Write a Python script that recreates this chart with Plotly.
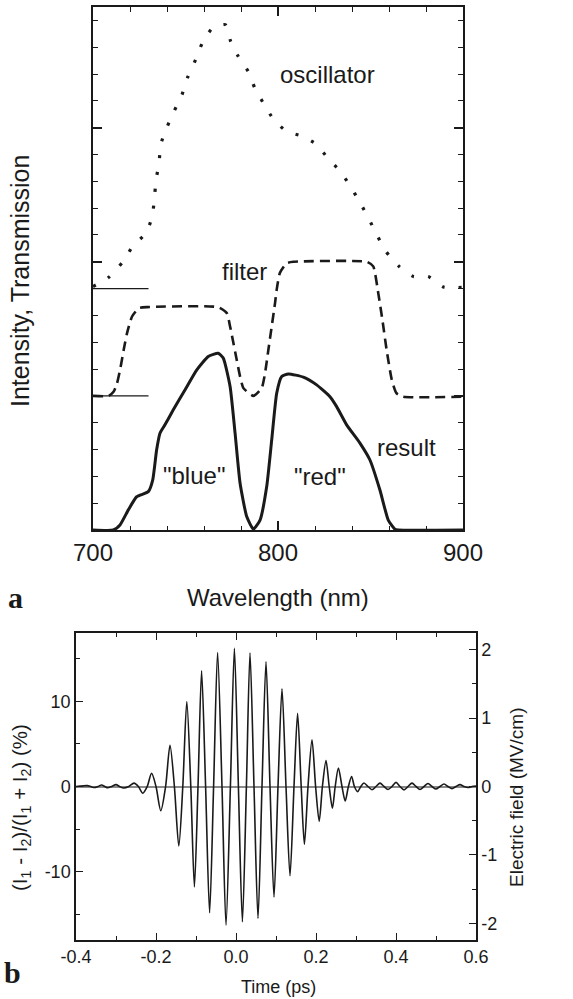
import plotly.graph_objects as go

# ---------------- data: panel a ----------------
osc_wl = [700, 708.3, 716, 721.4, 728.6, 732, 733.2, 734.1, 735.7, 736.6, 739.8, 743.8, 748.1, 751,
          755.5, 759.1, 764.7, 771.5, 774.4, 778.5, 783.9, 787.7, 792.6, 797.5, 804.7, 813.2, 820.9,
          827.2, 833.2, 838.6, 844, 848.9, 853.4, 858.4, 865.4, 873.2, 881.2, 889.4, 900]
osc_val = [9.08, 9.41, 9.99, 10.57, 11.07, 11.69, 12.38, 13.06, 13.68, 14.37, 14.99, 15.61, 16.23, 16.85,
           17.54, 18.16, 18.72, 18.84, 18.22, 17.66, 17.10, 16.44, 15.86, 15.32, 14.86, 14.68, 14.37,
           13.84, 13.41, 12.87, 12.25, 11.63, 11.01, 10.38, 9.83, 9.45, 9.45, 9.06, 9.05]

filt_wl = [700, 708.5, 711.2, 713, 714.8, 716.6, 718.4, 721.1, 724.7, 729.2, 767.7, 772.3, 774.1, 775.9,
           777.7, 779.5, 781.3, 786.7, 791.2, 793, 794.8, 796.6, 798.4, 799.3, 801, 804.7, 808.3,
           848, 851.5, 854.2, 856.5, 858.7, 861.5, 864, 867.6, 900]
filt_val = [5.0, 5.0, 5.16, 5.47, 6.03, 6.72, 7.34, 7.96, 8.27, 8.31, 8.31, 8.09, 7.59, 6.97,
            6.34, 5.72, 5.29, 5.0, 5.29, 5.85, 6.72, 7.59, 8.46, 8.96, 9.58, 9.95, 10.0,
            10.0, 9.83, 8.83, 7.8, 6.72, 5.6, 5.1, 4.97, 4.97]

res_wl = [700, 711, 714.6, 719.1, 723.6, 729.9, 732.3, 734.4, 736.2, 738.9, 743.4, 749.7, 756.1, 762.3,
          767.7, 770.4, 774.1, 776.8, 779.5, 783.1, 786.7, 790.3, 793.9, 796.6, 799.3, 802, 805.6,
          813.7, 820.9, 828.1, 831.7, 837.1, 844.3, 849.7, 855.1, 859.6, 863.2, 865, 900]
res_val = [0, 0, 0.19, 0.75, 1.24, 1.43, 1.87, 2.99, 3.61, 3.92, 4.48, 5.22, 5.97, 6.47,
           6.59, 6.41, 5.35, 3.61, 1.74, 0.50, 0.03, 0.37, 1.62, 3.36, 5.10, 5.72, 5.82,
           5.70, 5.41, 4.97, 4.60, 3.92, 3.24, 2.61, 1.49, 0.37, 0.03, 0, 0]

base_wl = [700, 730]
base_levels = [5, 9]

a_xtick_vals = [700, 800, 900]
a_xtick_text = ["700", "800", "900"]
a_xtick_minor = [720, 740, 760, 780, 820, 840, 860, 880]
a_ytick_major = [0, 5, 10, 15]
a_ytick_minor = [1, 2, 3, 4, 6, 7, 8, 9, 11, 12, 13, 14, 16, 17, 18, 19]

a_labels = ["oscillator", "filter", '"blue"', '"red"', "result"]
a_label_x = [826.5, 782, 754.8, 822.7, 869.2]
a_label_y = [16.98, 9.64, 2.03, 1.99, 3.07]

# ---------------- data: panel b ----------------
t_ps = [-0.400, -0.390, -0.372, -0.363, -0.354, -0.345, -0.336, -0.328, -0.321, -0.311, -0.300, -0.291,
        -0.281, -0.268, -0.255, -0.244, -0.233, -0.222, -0.211, -0.200, -0.188, -0.176, -0.165, -0.154,
        -0.143, -0.133, -0.123, -0.113, -0.104, -0.095, -0.086, -0.076, -0.066, -0.056, -0.046, -0.035,
        -0.025, -0.014, -0.004, 0.006, 0.016, 0.026, 0.035, 0.045, 0.055, 0.065, 0.075, 0.085,
        0.095, 0.105, 0.115, 0.125, 0.135, 0.145, 0.154, 0.163, 0.171, 0.180, 0.190, 0.199,
        0.208, 0.216, 0.225, 0.233, 0.241, 0.248, 0.256, 0.265, 0.273, 0.281, 0.289, 0.296,
        0.304, 0.312, 0.320, 0.330, 0.340, 0.350, 0.360, 0.370, 0.380, 0.390, 0.400, 0.410,
        0.420, 0.430, 0.440, 0.450, 0.460, 0.470, 0.480, 0.490, 0.500, 0.510, 0.520, 0.530,
        0.540, 0.550, 0.560, 0.570, 0.580, 0.590, 0.600]
signal_pct = [0.00, 0.05, 0.10, 0.00, -0.12, 0.00, 0.18, 0.00, -0.15, 0.00, 0.22, 0.00,
              -0.18, 0.00, 0.40, 0.00, -0.79, 0.00, 1.55, 0.00, -2.85, 0.00, 4.85, 0.00,
              -7.0, 0.00, 10.0, 0.00, -11.8, 0.00, 13.6, 0.00, -14.85, 0.00, 15.75, 0.00,
              -16.3, 0.00, 16.25, 0.00, -15.9, 0.00, 15.7, 0.00, -15.5, 0.00, 14.65, 0.00,
              -13.0, 0.00, 11.5, 0.00, -10.5, 0.00, 8.6, 0.00, -6.8, 0.00, 5.5, 0.00,
              -4.1, 0.00, 3.05, 0.00, -2.55, 0.00, 2.17, 0.00, -1.7, 0.00, 1.18, 0.00,
              -0.6, 0.00, 0.42, 0.00, -0.38, 0.00, 0.40, 0.00, -0.35, 0.00, 0.48, 0.00,
              -0.40, 0.00, 0.40, 0.00, -0.35, 0.00, 0.35, 0.00, -0.30, 0.00, 0.30, 0.00,
              -0.25, 0.00, 0.22, 0.00, -0.12, 0.00, 0.05]

b_xtick_vals = [-0.4, -0.2, 0.0, 0.2, 0.4, 0.6]
b_xtick_text = ["-0.4", "-0.2", "0.0", "0.2", "0.4", "0.6"]
b_xtick_minor = [-0.3, -0.1, 0.1, 0.3, 0.5]
b_ltick_vals = [-10, 0, 10]
b_ltick_text = ["-10", "0", "10"]
b_ltick_minor = [-15, -5, 5, 15]
b_rtick_vals = [-2, -1, 0, 1, 2]
b_rtick_text = ["-2", "-1", "0", "1", "2"]
b_rtick_minor = [-1.5, -0.5, 0.5, 1.5]
pct_per_mvcm = 8.04
b_left_range = [-18.05, 18.05]

# ---------------- figure ----------------
W, H = 573, 999
FONT = "Liberation Sans, Arial, Helvetica, sans-serif"
SERIF = "Liberation Serif, DejaVu Serif, serif"
INK = "#1a1a1a"

def fx(p):
    return p / W

def fy(p):
    return 1 - p / H

a_xdom = [fx(93), fx(463)]
a_ydom = [fy(530), fy(7)]
b_xdom = [fx(76), fx(476)]
b_ydom = [fy(940), fy(633)]
a_xrange = [700, 900]
a_yrange = [0, 19.5]
b_xrange = [-0.4, 0.6]
b_rrange = [v / pct_per_mvcm for v in b_left_range]

fig = go.Figure()

fig.add_trace(go.Scatter(x=osc_wl, y=osc_val, mode="lines", xaxis="x", yaxis="y",
                         line=dict(color=INK, width=3.2, dash="3px,14px", shape="spline", smoothing=0.6)))
fig.add_trace(go.Scatter(x=filt_wl, y=filt_val, mode="lines", xaxis="x", yaxis="y",
                         line=dict(color=INK, width=2.6, dash="10px,6px", shape="spline", smoothing=0.5)))
fig.add_trace(go.Scatter(x=res_wl, y=res_val, mode="lines", xaxis="x", yaxis="y",
                         line=dict(color=INK, width=3, shape="spline", smoothing=0.5)))
for lv in base_levels:
    fig.add_trace(go.Scatter(x=base_wl, y=[lv, lv], mode="lines", xaxis="x", yaxis="y",
                             line=dict(color=INK, width=1.2)))

fig.add_trace(go.Scatter(x=t_ps, y=signal_pct, mode="lines", xaxis="x2", yaxis="y2",
                         line=dict(color=INK, width=1.6, shape="spline", smoothing=0.8)))

# invisible helpers so every overlay axis belongs to a subplot
for xa, ya, xv in [("x2", "y3", b_xrange[0]), ("x3", "y", a_xrange[0]), ("x", "y4", a_xrange[0]),
                   ("x4", "y2", b_xrange[0]), ("x2", "y5", b_xrange[0]), ("x2", "y6", b_xrange[0])]:
    fig.add_trace(go.Scatter(x=[xv], y=[0], xaxis=xa, yaxis=ya, mode="markers",
                             marker=dict(opacity=0, size=1), hoverinfo="skip"))

def axis(**kw):
    d = dict(showgrid=False, showline=True, linecolor=INK, color=INK, automargin=False,
             tickcolor=INK, ticks="inside", zeroline=False, tickmode="array")
    d.update(kw)
    return d

tf24 = dict(size=24, family=FONT, color=INK)
tf18 = dict(size=18, family=FONT, color=INK)

fig.update_layout(
    template="none",
    width=W, height=H, margin=dict(l=0, r=0, t=0, b=0, pad=0, autoexpand=False),
    paper_bgcolor="white", plot_bgcolor="white", showlegend=False,
    font=dict(family=FONT, color=INK),
    # panel a
    xaxis=axis(domain=a_xdom, range=a_xrange, anchor="y", tickvals=a_xtick_vals, ticktext=a_xtick_text,
               ticklen=9, tickwidth=1.5, linewidth=2, mirror="ticks", tickfont=tf24),
    xaxis3=axis(domain=a_xdom, range=a_xrange, anchor="y", overlaying="x", tickvals=a_xtick_minor,
                showticklabels=False, ticklen=4.5, tickwidth=1.3, linewidth=2, mirror="ticks"),
    yaxis=axis(domain=a_ydom, range=a_yrange, anchor="x", tickvals=a_ytick_major, showticklabels=False,
               ticklen=9, tickwidth=1.5, linewidth=2, mirror="ticks"),
    yaxis4=axis(domain=a_ydom, range=a_yrange, anchor="x", overlaying="y", tickvals=a_ytick_minor,
                showticklabels=False, ticklen=5, tickwidth=1.3, linewidth=2, mirror="ticks"),
    # panel b
    xaxis2=axis(domain=b_xdom, range=b_xrange, anchor="y2", tickvals=b_xtick_vals, ticktext=b_xtick_text,
                ticklen=7, tickwidth=1.2, linewidth=1.5, mirror="ticks", tickfont=tf18),
    xaxis4=axis(domain=b_xdom, range=b_xrange, anchor="y2", overlaying="x2", tickvals=b_xtick_minor,
                showticklabels=False, ticklen=4, tickwidth=1.1, linewidth=1.5, mirror="ticks"),
    yaxis2=axis(domain=b_ydom, range=b_left_range, anchor="x2", tickvals=b_ltick_vals, ticktext=b_ltick_text,
                ticklen=7, tickwidth=1.2, linewidth=1.5,
                zeroline=True, zerolinecolor="#8a8a8a", zerolinewidth=1.6, tickfont=tf18),
    yaxis5=axis(domain=b_ydom, range=b_left_range, anchor="x2", overlaying="y2", side="left",
                tickvals=b_ltick_minor, showticklabels=False, ticklen=4, tickwidth=1.1, linewidth=1.5),
    yaxis3=axis(domain=b_ydom, range=b_rrange, anchor="x2", overlaying="y2", side="right",
                tickvals=b_rtick_vals, ticktext=b_rtick_text, ticklen=7, tickwidth=1.2, linewidth=1.5,
                tickfont=tf18),
    yaxis6=axis(domain=b_ydom, range=b_rrange, anchor="x2", overlaying="y2", side="right",
                tickvals=b_rtick_minor, showticklabels=False, ticklen=4, tickwidth=1.1, linewidth=1.5),
)

ann = []
for txt, x, y in zip(a_labels, a_label_x, a_label_y):
    ann.append(dict(text=txt, x=x, y=y, xref="x", yref="y", showarrow=False, font=tf24))

def pann(text, x, y, size, angle=0, family=FONT):
    ann.append(dict(text=text, x=fx(x), y=fy(y), xref="paper", yref="paper", showarrow=False,
                    textangle=angle, xanchor="center", yanchor="middle",
                    font=dict(size=size, family=family, color=INK)))

pann("Intensity, Transmission", 20, 281, 25, -90)
pann("Wavelength (nm)", 278, 597, 24)
pann("<b>a</b>", 15, 597, 30, family=SERIF)
pann("Time (ps)", 278, 987, 18)
pann("<b>b</b>", 12, 972, 30, family=SERIF)
pann("(I<sub>1</sub> - I<sub>2</sub>)/(I<sub>1</sub> + I<sub>2</sub>) (%)", 21, 808, 20.5, -90)
pann("Electric field (MV/cm)", 516, 798, 19, -90)

fig.update_layout(annotations=ann)
fig.write_html("out.html")
